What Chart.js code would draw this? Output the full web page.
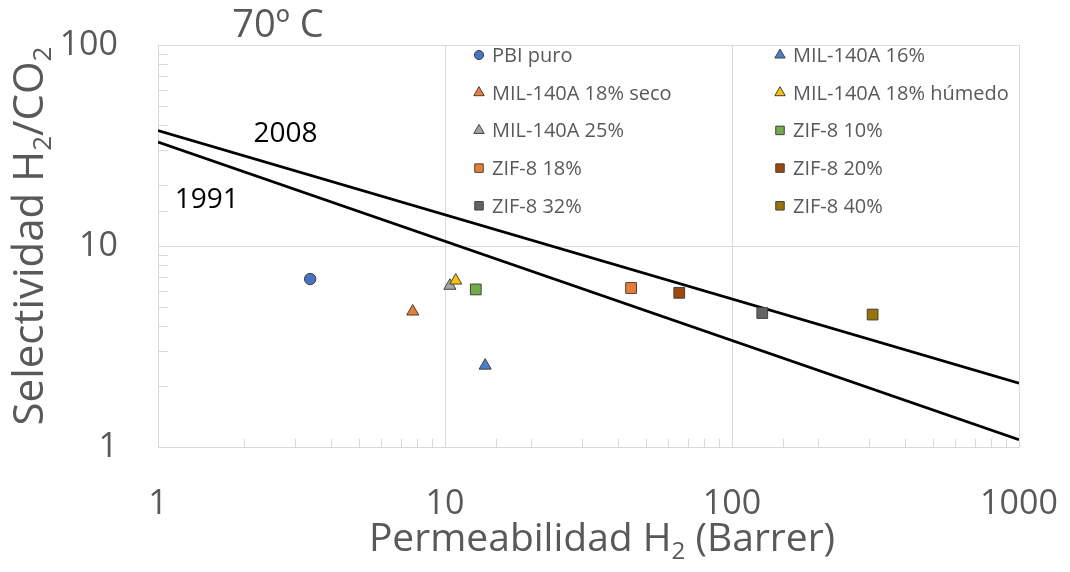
<!DOCTYPE html>
<html>
<head>
<meta charset="utf-8">
<script src="https://cdn.jsdelivr.net/npm/chart.js@4.4.0/dist/chart.umd.min.js"></script>
<style>
    html, body { margin: 0; padding: 0; background: #ffffff; }
    #contenedor { width: 1070px; height: 572px; }
</style>
</head>
<body>
<div id="contenedor"><canvas id="grafico" width="1070" height="572"></canvas></div>
<script>

// datos
const materiales = ["PBI puro", "MIL-140A 16%", "MIL-140A 18% seco", "MIL-140A 18% húmedo", "MIL-140A 25%",
    "ZIF-8 10%", "ZIF-8 18%", "ZIF-8 20%", "ZIF-8 32%", "ZIF-8 40%"];
const permeabilidad = [3.39, 13.8, 7.72, 10.9, 10.4, 12.8, 44.5, 65.5, 127.5, 309];
const selectividad = [6.85, 2.54, 4.72, 6.73, 6.34, 6.08, 6.18, 5.85, 4.64, 4.56];

// limites superiores (Robeson)
const limiteNombres = ["1991", "2008"];
const limitePerm = [1, 1000];
const limite1991 = [32.9, 1.087];
const limite2008 = [37.5, 2.08];

const ticksX = [1, 10, 100, 1000];
const ticksY = [1, 10, 100];

// estilos
const colores = ["#4472C4", "#4A7FCF", "#ED7D31", "#FFC000", "#A5A5A5",
    "#70AD47", "#ED7D31", "#9E480E", "#636363", "#997300"];
const formas = ["circle", "triangle", "triangle", "triangle", "triangle",
    "rect", "rect", "rect", "rect", "rect"];
const radios = { circle: 5.7, triangle: 7, rect: 7.6 };
const posEtiquetas = [[1.48, 17.4], [2.78, 37.0]];

const gris = "#595959";
const fuente = '"Open Sans"';

function dibujarMarca(ctx, forma, x, y, r) {
    ctx.beginPath();
    if (forma === "circle") {
        ctx.arc(x, y, r, 0, Math.PI * 2);
    } else if (forma === "triangle") {
        ctx.moveTo(x, y - r);
        ctx.lineTo(x + 0.866 * r, y + 0.5 * r);
        ctx.lineTo(x - 0.866 * r, y + 0.5 * r);
        ctx.closePath();
    } else {
        const s = r * Math.SQRT1_2;
        ctx.rect(x - s, y - s, 2 * s, 2 * s);
    }
    ctx.fill();
    ctx.stroke();
}

function anchoPartes(ctx, partes, tam) {
    let w = 0;
    partes.forEach(p => {
        ctx.font = (p[1] ? tam * 0.62 : tam) + "px " + fuente;
        w += ctx.measureText(p[0]).width;
    });
    return w;
}

// texto con subindices, centrado en (cx, cy)
function textoSub(ctx, partes, cx, cy, tam) {
    const w = anchoPartes(ctx, partes, tam);
    let x = cx - w / 2;
    const base = cy + tam * 0.357;
    ctx.textAlign = "left";
    ctx.textBaseline = "alphabetic";
    partes.forEach(p => {
        ctx.font = (p[1] ? tam * 0.62 : tam) + "px " + fuente;
        ctx.fillText(p[0], x, base + (p[1] ? tam * 0.2 : 0));
        x += ctx.measureText(p[0]).width;
    });
}

const marcasMenores = {
    id: "marcasMenores",
    beforeDatasetsDraw(chart) {
        const { ctx, chartArea } = chart;
        const sx = chart.scales.x;
        const sy = chart.scales.y;
        ctx.save();
        ctx.strokeStyle = "#d9d9d9";
        ctx.lineWidth = 1;
        ctx.beginPath();
        sx.ticks.forEach(t => {
            if (ticksX.includes(t.value)) return;
            const px = Math.round(sx.getPixelForValue(t.value)) + 0.5;
            ctx.moveTo(px, chartArea.bottom);
            ctx.lineTo(px, chartArea.bottom - 8);
        });
        sy.ticks.forEach(t => {
            if (ticksY.includes(t.value)) return;
            const py = Math.round(sy.getPixelForValue(t.value)) + 0.5;
            ctx.moveTo(chartArea.left, py);
            ctx.lineTo(chartArea.left + 10, py);
        });
        ctx.stroke();
        ctx.restore();
    }
};

const textos = {
    id: "textos",
    afterDraw(chart) {
        const { ctx, chartArea } = chart;
        const sx = chart.scales.x;
        const sy = chart.scales.y;
        ctx.save();
        ctx.fillStyle = gris;

        // titulo
        textoSub(ctx, [["70º C", false]], 278, 23, 38);

        // titulo eje x
        textoSub(ctx, [["Permeabilidad H", false], ["2", true], [" (Barrer)", false]], 602, 537, 39);

        // titulo eje y
        ctx.save();
        ctx.translate(28, 236);
        ctx.rotate(-Math.PI / 2);
        textoSub(ctx, [["Selectividad H", false], ["2", true], ["/CO", false], ["2", true]], 0, 0, 42);
        ctx.restore();

        // etiquetas de los limites
        ctx.fillStyle = "#000000";
        limiteNombres.forEach((n, i) => {
            textoSub(ctx, [[n, false]], sx.getPixelForValue(posEtiquetas[i][0]),
                sy.getPixelForValue(posEtiquetas[i][1]), 28);
        });

        // leyenda en dos columnas
        const colX = [479, 780];
        materiales.forEach((m, i) => {
            const fila = Math.floor(i / 2);
            const col = i % 2;
            const yy = 55 + fila * 37.7;
            ctx.fillStyle = colores[i];
            ctx.strokeStyle = "#404040";
            ctx.lineWidth = 1;
            dibujarMarca(ctx, formas[i], colX[col], yy, formas[i] === "circle" ? 4.6 : 6);
            ctx.fillStyle = gris;
            ctx.font = "20px " + fuente;
            ctx.textAlign = "left";
            ctx.textBaseline = "alphabetic";
            ctx.fillText(m, colX[col] + 13, yy + 7);
        });
        ctx.restore();
    }
};

const conjuntos = materiales.map((m, i) => ({
    label: m,
    data: [{ x: permeabilidad[i], y: selectividad[i] }],
    pointStyle: formas[i],
    pointRadius: radios[formas[i]],
    pointBackgroundColor: colores[i],
    pointBorderColor: "#404040",
    pointBorderWidth: 1,
    showLine: false,
    order: 0
}));

[limite1991, limite2008].forEach((lim, i) => {
    conjuntos.push({
        label: limiteNombres[i],
        data: limitePerm.map((p, j) => ({ x: p, y: lim[j] })),
        showLine: true,
        borderColor: "#000000",
        borderWidth: 2.75,
        pointRadius: 0,
        fill: false,
        order: 1
    });
});

const colorRejilla = (lista) => (c) => (c.tick && lista.includes(c.tick.value)) ? "#d9d9d9" : "rgba(0,0,0,0)";

function sinRelleno(s) {
    s.paddingTop = 0;
    s.paddingBottom = 0;
    s.paddingLeft = 0;
    s.paddingRight = 0;
}

const grafico = new Chart(document.getElementById("grafico").getContext("2d"), {
    type: "scatter",
    data: { datasets: conjuntos },
    options: {
        responsive: false,
        animation: false,
        events: [],
        layout: { padding: { top: 45, right: 51, left: 0, bottom: 0 } },
        plugins: {
            legend: { display: false },
            tooltip: { enabled: false },
            title: { display: false }
        },
        scales: {
            x: {
                type: "logarithmic",
                min: 1,
                max: 1000,
                afterFit: s => { s.height = 125; sinRelleno(s); },
                grid: { color: colorRejilla(ticksX), drawTicks: false, lineWidth: 1 },
                border: { color: "#d9d9d9", width: 1 },
                ticks: {
                    autoSkip: false,
                    maxRotation: 0,
                    padding: 37,
                    color: gris,
                    font: { family: "Open Sans", size: 34 },
                    callback: v => ticksX.includes(v) ? String(v) : ""
                }
            },
            y: {
                type: "logarithmic",
                min: 1,
                max: 100,
                afterFit: s => { s.width = 158; sinRelleno(s); },
                grid: { color: colorRejilla(ticksY), drawTicks: false, lineWidth: 1 },
                border: { color: "#d9d9d9", width: 1 },
                ticks: {
                    autoSkip: false,
                    padding: 40,
                    color: gris,
                    font: { family: "Open Sans", size: 34 },
                    callback: v => ticksY.includes(v) ? String(v) : ""
                }
            }
        }
    },
    plugins: [marcasMenores, textos]
});
</script>
</body>
</html>
